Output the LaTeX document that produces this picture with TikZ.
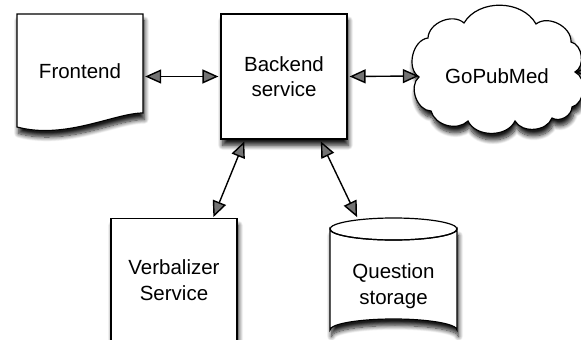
\documentclass[tikz,border=0pt]{standalone}
\usepackage{fontspec}
\setmainfont{Liberation Sans}
\usetikzlibrary{arrows.meta,shadows.blur}
\tikzset{
  outline/.style={draw=black, line width=1.2pt, fill=white},
  softshadow/.style={blur shadow={shadow xshift=1.5pt, shadow yshift=-6.5pt,
      shadow blur steps=10, shadow blur radius=4.5pt, shadow opacity=90}},
  label/.style={font=\fontsize{20.5}{25.5}\selectfont, align=center},
  head/.tip={Triangle[length=16pt,width=14pt]},
  link/.style={line width=1.4pt, head-head},
}
\begin{document}
\begin{tikzpicture}[x=1pt,y=-1pt]
\useasboundingbox (0,0) rectangle (581,340);
\clip (0,0) rectangle (581,340);

% Frontend: a page with a wavy lower edge
\path[outline, softshadow] (17,14) -- (143,14) -- (143,113)
  .. controls (115,113) and (65,140) .. (17,127) -- cycle;
\node[label, minimum width=126pt, minimum height=116pt] (frontend) at (80,71) {Frontend};

% Backend service
\node[outline, softshadow, label, minimum width=126pt, minimum height=125pt,
      inner sep=0pt] (backend) at (284,76.5) {Backend\\service};

% GoPubMed cloud, built from puffs between indentation points
\path[outline, softshadow] (419,77)
  to[bend left=70] (428,38)
  to[bend left=65] (464,23)
  to[bend left=60] (536,24)
  to[bend left=65] (571,42)
  to[bend left=70] (575,72)
  to[bend left=70] (572,107)
  to[bend left=60] (552,118)
  to[bend left=65] (515,121)
  to[bend left=65] (468,121)
  to[bend left=60] (431,111)
  to[bend left=70] (419,77) -- cycle;
\node[label, minimum width=156pt, minimum height=110pt, inner sep=0pt] (cloud) at (497,76) {GoPubMed};

% Verbalizer service, running past the lower edge
\node[outline, softshadow, minimum width=126pt, minimum height=140pt,
      anchor=north, inner sep=0pt] (verb) at (174,218) {};
\node[label] (verbtext) at (174,280) {Verbalizer\\Service};

% Question storage cylinder
\path[outline, softshadow] (330,229) -- (330,330) arc[start angle=180, end angle=360, x radius=63.5pt, y radius=-11pt]
  -- (457,229) arc[start angle=0, end angle=180, x radius=63.5pt, y radius=-11pt] -- cycle;
\draw[line width=1.2pt] (393.5,229) ellipse[x radius=63.5pt, y radius=11pt];
\node[minimum width=127pt, minimum height=10pt, inner sep=0pt, anchor=north] (store) at (393.5,218) {};
\node[label] (storetext) at (393.5,286) {Question\\storage};

% connectors
\draw[link, shorten <=2pt, shorten >=2pt] (frontend.east |- backend.center) -- (backend.west);
\draw[link, shorten <=2pt] (backend.east) -- (cloud.west);
\draw[link, shorten <=2pt, shorten >=1pt] ([xshift=-39pt]backend.south) -- ([xshift=39pt]verb.north);
\draw[link, shorten <=2pt, shorten >=1pt] ([xshift=36pt]backend.south) -- ([xshift=-36pt]store.north);
\coordinate (offright) at (615,72);
\draw[line width=1.4pt, -head] (offright) -- (cloud.east |- 0,72);
\end{tikzpicture}
\end{document}
